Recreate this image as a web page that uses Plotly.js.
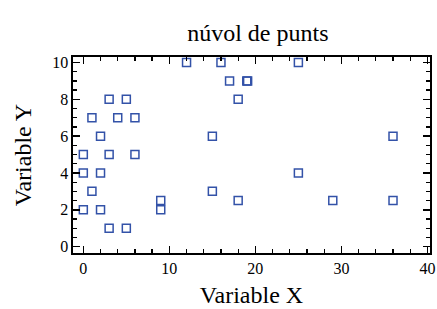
<!DOCTYPE html>
<html>
<head>
<meta charset="utf-8">
<script src="https://cdn.plot.ly/plotly-3.0.1.min.js"></script>
<style>html,body{margin:0;padding:0;background:#fff;}#chart{width:437px;height:309px;}</style>
</head>
<body>
<div id="chart"></div>
<script>
const xValues = [12, 16, 25, 17, 19, 19.1, 3, 5, 18, 1, 4, 6, 2, 15, 36, 0, 3, 6, 0, 2, 25, 1, 15, 0, 2, 9, 9, 18, 29, 36, 3, 5];
const yValues = [10, 10, 10, 9, 9, 9, 8, 8, 8, 7, 7, 7, 6, 6, 6, 5, 5, 5, 4, 4, 4, 3, 3, 2, 2, 2, 2.5, 2.5, 2.5, 2.5, 1, 1];
const chartTitle = "núvol de punts";
const xTitle = "Variable X";
const yTitle = "Variable Y";
const xRange = [-1.2, 40.3];
const yRange = [-0.35, 10.3];

const serif = "Liberation Serif";
const trace = {
  x: xValues, y: yValues, type: "scatter", mode: "markers",
  marker: {symbol: "square-open", size: 8, color: "#3352a8", line: {width: 1.5, color: "#3352a8"}},
  hoverinfo: "none"
};
const ghost = {x: xRange, y: yRange, xaxis: "x2", yaxis: "y2", type: "scatter", mode: "markers",
  marker: {opacity: 0, size: 1}, hoverinfo: "none"};
function axis(extra) {
  return Object.assign({
    showline: true, linecolor: "#000", linewidth: 1.6, mirror: "ticks",
    ticks: "inside", ticklen: 7, tickwidth: 1.6, tickcolor: "#000",
    showgrid: false, zeroline: false,
    tickfont: {family: serif, size: 16, color: "#000"}
  }, extra);
}
const layout = {
  width: 437, height: 309,
  margin: {l: 73, r: 7, t: 57, b: 56},
  paper_bgcolor: "#fff", plot_bgcolor: "#fff",
  font: {family: serif, color: "#000"},
  showlegend: false,
  title: {text: chartTitle, font: {family: serif, size: 24, color: "#000"}, x: 0.59, xanchor: "center", y: 0.895, yanchor: "middle"},
  xaxis: axis({range: xRange, tick0: 0, dtick: 10,
    title: {text: xTitle, font: {family: serif, size: 24, color: "#000"}, standoff: 10}}),
  yaxis: axis({range: yRange, tick0: 0, dtick: 2,
    title: {text: yTitle, font: {family: serif, size: 24, color: "#000"}, standoff: 14}}),
  xaxis2: axis({range: xRange, tick0: 0, dtick: 2, ticklen: 4, tickwidth: 1.3, overlaying: "x", side: "bottom", anchor: "y", showticklabels: false}),
  yaxis2: axis({range: yRange, tick0: 0, dtick: 0.5, ticklen: 4, tickwidth: 1.3, overlaying: "y", side: "left", anchor: "x", showticklabels: false})
};
Plotly.newPlot("chart", [trace, ghost], layout, {staticPlot: true, displayModeBar: false});
</script>
</body>
</html>
